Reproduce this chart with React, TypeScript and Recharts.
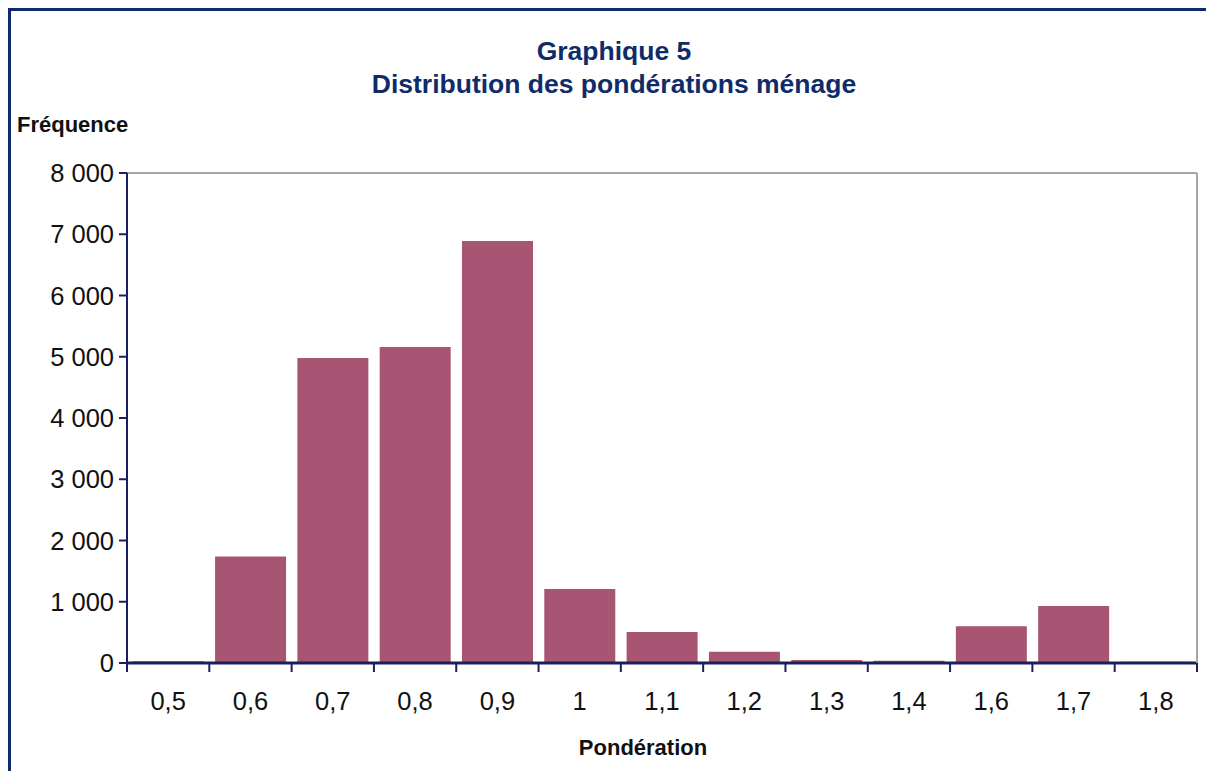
import { BarChart, Bar, XAxis, YAxis, ReferenceLine } from 'recharts';

const categories = ['0,5', '0,6', '0,7', '0,8', '0,9', '1', '1,1', '1,2', '1,3', '1,4', '1,6', '1,7', '1,8'];
const frequencies = [30, 1740, 4980, 5160, 6890, 1210, 505, 185, 50, 35, 600, 930, 20];
const yTicks = [0, 1000, 2000, 3000, 4000, 5000, 6000, 7000, 8000];

const data = categories.map((c, i) => ({ name: c, value: frequencies[i] }));

const NAVY = '#1b1f5e';
const TITLE = '#0f2c68';
const FONT = '"Liberation Sans", Arial, sans-serif';

const fmt = (v: number) => (v >= 1000 ? `${Math.floor(v / 1000)} ${String(v % 1000).padStart(3, '0')}` : String(v));

// category tick: label in the middle, tick marks on the band edges
// eslint-disable-next-line @typescript-eslint/no-explicit-any
const XTick = (props: any) => {
    const { x, y, payload, index } = props;
    const half = payload?.offset ?? 0;
    const last = index === categories.length - 1;
    return (
        <g>
            <line x1={x - half} x2={x - half} y1={y - 9} y2={y} stroke={NAVY} strokeWidth={2} />
            {last && <line x1={x + half} x2={x + half} y1={y - 9} y2={y} stroke={NAVY} strokeWidth={2} />}
            <text x={x} y={y + 38} textAnchor="middle" fontSize={25.5} fill="#111" fontFamily={FONT}>
                {payload.value}
            </text>
        </g>
    );
};

export default function App() {
    return (
        <div style={{ position: 'relative', width: 1206, height: 763, fontFamily: FONT }}>
            <div
                style={{
                    position: 'absolute',
                    left: 0,
                    top: 0,
                    width: 1206,
                    height: 763,
                    borderLeft: `3px solid ${TITLE}`,
                    borderTop: `3px solid ${TITLE}`,
                    boxSizing: 'border-box',
                }}
            />
            <div
                style={{
                    position: 'absolute',
                    left: 0,
                    top: 27,
                    width: 1212,
                    textAlign: 'center',
                    color: TITLE,
                    fontWeight: 'bold',
                    fontSize: 26.5,
                    lineHeight: '33px',
                }}
            >
                <div>Graphique 5</div>
                <div>Distribution des pondérations ménage</div>
            </div>
            <div style={{ position: 'absolute', left: 9, top: 104, fontWeight: 'bold', fontSize: 22, color: '#111' }}>
                Fréquence
            </div>
            <div
                style={{
                    position: 'absolute',
                    left: 535,
                    width: 200,
                    top: 727,
                    textAlign: 'center',
                    fontWeight: 'bold',
                    fontSize: 22,
                    color: '#111',
                }}
            >
                Pondération
            </div>
            <div style={{ position: 'absolute', left: 0, top: 0 }}>
                <BarChart
                    width={1206}
                    height={763}
                    data={data}
                    margin={{ top: 165, right: 16, bottom: 48, left: 0 }}
                    barCategoryGap="7%"
                >
                    <XAxis
                        dataKey="name"
                        height={60}
                        interval={0}
                        tickSize={9}
                        tickMargin={0}
                        tickLine={false}
                        axisLine={{ stroke: NAVY, strokeWidth: 3 }}
                        tick={<XTick />}
                    />
                    <YAxis
                        yAxisId="left"
                        width={119}
                        domain={[0, 8000]}
                        ticks={yTicks}
                        interval={0}
                        tickFormatter={fmt}
                        tickSize={8}
                        tickMargin={5}
                        axisLine={{ stroke: NAVY, strokeWidth: 2 }}
                        tickLine={{ stroke: NAVY, strokeWidth: 2 }}
                        tick={{ fontSize: 25.5, fill: '#111', fontFamily: FONT }}
                    />
                    <YAxis
                        yAxisId="right"
                        orientation="right"
                        width={1}
                        domain={[0, 8000]}
                        tick={false}
                        tickLine={false}
                        axisLine={{ stroke: '#a6a6a6', strokeWidth: 2 }}
                    />
                    <ReferenceLine yAxisId="left" y={8000} stroke="#a6a6a6" strokeWidth={2} />
                    <Bar yAxisId="left" dataKey="value" fill="#a85573" isAnimationActive={false} />
                </BarChart>
            </div>
        </div>
    );
}
